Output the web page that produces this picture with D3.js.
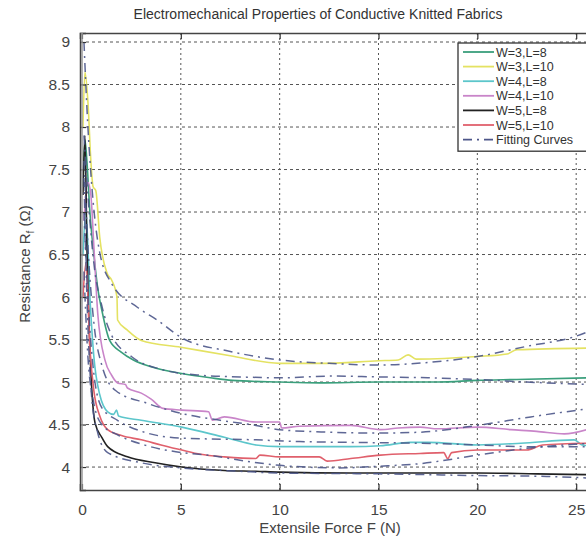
<!DOCTYPE html>
<html><head><meta charset="utf-8">
<script src="https://cdn.jsdelivr.net/npm/d3@7/dist/d3.min.js"></script>
<style>body{margin:0;background:#fff}svg{display:block;font-family:"Liberation Sans",Arial,sans-serif}</style>
</head><body><svg id="c" width="586" height="543"></svg>
<script>
const title = "Electromechanical Properties of Conductive Knitted Fabrics";
const xTicks = [0,5,10,15,20,25];
const yTicks = [4,4.5,5,5.5,6,6.5,7,7.5,8,8.5,9];
const seriesNames = ["W=3,L=8","W=3,L=10","W=4,L=8","W=4,L=10","W=5,L=8","W=5,L=10"];
const seriesColors = ["#3a9f7c","#e4e262","#5cc6cb","#c985c9","#222222","#e0606c"];
const fitLabel = "Fitting Curves";
const fitColor = "#4d5689";

const w3l8 = [[0.05,7.3],[0.15,7.85],[0.25,7.6],[0.4,7.0],[0.6,6.5],[0.8,6.1],[1.0,5.85],[1.4,5.49],[2.0,5.35],[2.6,5.26],[3.5,5.18],[5.05,5.1],[6.5,5.05],[7.6,5.02],[10,5.0],[12,4.99],[15,5.0],[18,5.0],[20,5.02],[22,5.03],[25.7,5.05]];
const w3l10 = [[0.05,8.0],[0.15,8.65],[0.3,8.3],[0.45,7.6],[0.56,7.3],[0.7,7.25],[0.9,6.7],[1.27,6.28],[1.5,6.2],[1.77,6.0],[1.8,5.73],[2.3,5.61],[3.0,5.49],[5,5.41],[7.5,5.31],[10,5.22],[12,5.22],[15,5.25],[16,5.26],[16.5,5.32],[16.9,5.27],[20,5.3],[21.5,5.33],[22,5.38],[25.7,5.4]];
const w4l8 = [[0.05,6.5],[0.2,7.0],[0.4,6.0],[0.6,5.3],[0.9,4.85],[1.3,4.65],[1.6,4.62],[1.75,4.67],[1.85,4.6],[3.0,4.55],[5.05,4.47],[7.2,4.35],[8.8,4.26],[10,4.24],[12,4.24],[13.6,4.24],[15.1,4.25],[16.6,4.29],[17.5,4.29],[20,4.26],[22.2,4.28],[24.9,4.32],[25.3,4.26],[25.7,4.25]];
const w4l10 = [[0.1,6.9],[0.3,7.35],[0.45,7.2],[0.6,6.6],[0.8,5.8],[1.16,5.26],[1.5,5.08],[1.8,4.99],[2.2,4.97],[2.3,4.93],[3.0,4.87],[3.5,4.8],[4.1,4.69],[5.05,4.67],[6.4,4.65],[6.6,4.55],[7.2,4.59],[8.8,4.53],[10,4.53],[10.1,4.46],[11,4.48],[13.6,4.49],[15.1,4.44],[16,4.46],[17.1,4.47],[18,4.45],[20,4.47],[21.7,4.44],[23,4.42],[24.4,4.39],[25.7,4.45]];
const w5l8 = [[0.05,7.2],[0.15,7.9],[0.25,6.6],[0.4,5.4],[0.66,4.52],[1.0,4.35],[1.3,4.24],[2.3,4.12],[3.7,4.05],[5.05,4.0],[7.2,3.96],[8.8,3.95],[10,3.94],[13.6,3.93],[17.5,3.93],[20,3.93],[23,3.92],[25.7,3.91]];
const w5l10 = [[0.05,6.0],[0.2,6.4],[0.4,5.4],[0.6,4.9],[0.9,4.6],[1.3,4.44],[2.0,4.37],[3.0,4.32],[4,4.26],[5.05,4.2],[6,4.15],[7.2,4.12],[8.8,4.1],[9.0,4.14],[10,4.12],[12.0,4.12],[12.4,4.07],[13.6,4.1],[15.1,4.14],[17.1,4.16],[18.3,4.17],[18.5,4.1],[18.7,4.17],[20,4.2],[22.5,4.2],[23.3,4.26],[25.7,4.28]];

const fitW3L8 = [[0.1,7.9],[0.3,7.2],[0.6,6.4],[1.0,5.9],[1.5,5.55],[2.5,5.3],[4,5.15],[6,5.08],[8,5.06],[10,5.05],[12.7,5.07],[15,5.06],[17.5,5.05],[20,5.03],[22.5,5.0],[25.7,4.97]];
const fitW3L10 = [[0.1,9.0],[0.3,8.0],[0.5,7.3],[0.9,6.52],[1.5,6.16],[2.8,5.88],[3.8,5.73],[5.05,5.52],[7.5,5.36],[10,5.26],[12.5,5.22],[15,5.2],[17.5,5.23],[20,5.3],[22.5,5.42],[25,5.54],[25.7,5.6]];
const fitW4L8 = [[0.1,7.0],[0.3,6.0],[0.6,5.1],[1.0,4.7],[1.8,4.55],[3.3,4.4],[5.05,4.34],[8.8,4.32],[11,4.3],[13.6,4.29],[17.1,4.28],[20,4.26],[22.5,4.24],[25.7,4.24]];
const fitW4L10 = [[0.1,7.6],[0.3,6.6],[0.6,5.7],[1.0,5.2],[1.7,4.9],[3.3,4.75],[5.05,4.63],[7,4.55],[8.8,4.49],[10,4.44],[12.5,4.41],[15.1,4.4],[17.1,4.41],[20,4.49],[22.7,4.59],[25.7,4.69]];
const fitW5L8 = [[0.1,7.4],[0.25,6.0],[0.5,4.8],[0.8,4.4],[1.3,4.17],[3.0,4.05],[5.05,3.99],[8,3.95],[10,3.93],[15,3.92],[20,3.9],[23.5,3.89],[25.7,3.87]];
const fitW5L10 = [[0.1,6.3],[0.3,5.3],[0.6,4.75],[1.0,4.5],[1.8,4.38],[3.3,4.25],[5.05,4.17],[6.4,4.14],[8,4.08],[10,4.02],[13,3.99],[15.1,4.01],[17.1,4.04],[20,4.14],[22.5,4.22],[25.7,4.28]];

const series = [w3l8,w3l10,w4l8,w4l10,w5l8,w5l10];
const fits = [fitW3L8,fitW3L10,fitW4L8,fitW4L10,fitW5L8,fitW5L10];

const svg = d3.select("#c");
const L = 80, R = 592, T = 33, B = 490;
const x = d3.scaleLinear().domain([-0.1, 25.8]).range([L, R]);
const y = d3.scaleLinear().domain([3.73, 9.106]).range([B, T]);

// grid
const g = svg.append("g");
g.selectAll(".hg").data(yTicks).join("line")
  .attr("x1", L).attr("x2", R).attr("y1", d=>y(d)).attr("y2", d=>y(d))
  .attr("stroke","#555").attr("stroke-width",1).attr("stroke-dasharray","3,3");
g.selectAll(".vg").data(xTicks.slice(1)).join("line")
  .attr("y1", T).attr("y2", B).attr("x1", d=>x(d)).attr("x2", d=>x(d))
  .attr("stroke","#555").attr("stroke-width",1).attr("stroke-dasharray","2,3");

const line = d3.line().x(d=>x(d[0])).y(d=>y(d[1])).curve(d3.curveMonotoneX);
svg.append("clipPath").attr("id","clp").append("rect").attr("x",L).attr("y",T).attr("width",R-L).attr("height",B-T);
const plot = svg.append("g").attr("clip-path","url(#clp)");
series.forEach((s,i)=>{
  plot.append("path").attr("d", line(s)).attr("fill","none")
    .attr("stroke", seriesColors[i]).attr("stroke-width",1.6);
});
fits.forEach(s=>{
  plot.append("path").attr("d", line(s)).attr("fill","none")
    .attr("stroke", fitColor).attr("stroke-width",1.5).attr("stroke-dasharray","9,5,2,5").attr("opacity",0.9);
});

// axes
const fmt = d3.format("~g");
const xAxisB = d3.axisBottom(x).tickValues(xTicks).tickSize(-6).tickPadding(14).tickFormat(fmt);
const xAxisT = d3.axisTop(x).tickValues(xTicks).tickSize(-6).tickFormat("");
const yAxisL = d3.axisLeft(y).tickValues(yTicks).tickSize(-6).tickPadding(10).tickFormat(fmt);
function style(sel){
  sel.select(".domain").attr("stroke","#444").attr("stroke-width",1.5);
  sel.selectAll(".tick line").attr("stroke","#333").attr("stroke-width",1.2);
  sel.selectAll("text").attr("font-size",15.5).attr("fill","#444").attr("font-family","Liberation Sans, Arial, sans-serif");
}
svg.append("g").attr("transform",`translate(0,${B})`).call(xAxisB).call(style);
svg.append("g").attr("transform",`translate(0,${T})`).call(xAxisT).call(style);
svg.append("g").attr("transform",`translate(${L},0)`).call(yAxisL).call(style);
svg.append("line").attr("x1",L+2).attr("x2",L+2).attr("y1",T).attr("y2",B).attr("stroke","#999").attr("stroke-width",1.5);

// title and labels
svg.append("text").attr("x",318).attr("y",19).attr("text-anchor","middle").attr("font-size",14).attr("fill","#333").text(title);
svg.append("text").attr("x",330).attr("y",533).attr("text-anchor","middle").attr("font-size",15).attr("fill","#444").text("Extensile Force F (N)");
const yl = svg.append("text").attr("transform","translate(30,264) rotate(-90)").attr("text-anchor","middle").attr("font-size",15).attr("fill","#444");
yl.append("tspan").text("Resistance R");
yl.append("tspan").attr("font-size",10).attr("dy",4).text("f");
yl.append("tspan").attr("dy",-4).text(" (Ω)");

// legend
const lg = svg.append("g");
const lgX = 458, lgY = 43, rowH = 14.6;
lg.append("rect").attr("x",lgX).attr("y",lgY).attr("width",140).attr("height",rowH*7+6)
  .attr("fill","#fff").attr("stroke","#333").attr("stroke-width",1.3);
const items = seriesNames.map((n,i)=>({n, c:seriesColors[i], dash:null})).concat([{n:fitLabel,c:fitColor,dash:"9,5,2,5"}]);
items.forEach((it,i)=>{
  const yy = lgY + 9 + i*rowH;
  lg.append("line").attr("x1",lgX+5).attr("x2",lgX+36).attr("y1",yy).attr("y2",yy)
    .attr("stroke",it.c).attr("stroke-width",1.8).attr("stroke-dasharray",it.dash);
  lg.append("text").attr("x",lgX+38).attr("y",yy+4.5).attr("font-size",12.5).attr("fill","#333").text(it.n);
});
</script></body></html>
